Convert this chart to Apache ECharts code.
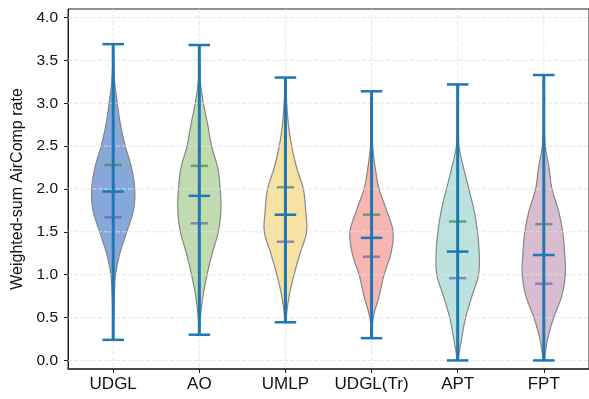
<!DOCTYPE html>
<html>
<head>
<meta charset="utf-8">
<script src="https://cdn.jsdelivr.net/npm/echarts@6/dist/echarts.min.js"></script>
<style>
  html, body { margin: 0; padding: 0; background: #fff; }
  #chart { width: 589px; height: 399px; }
</style>
</head>
<body>
<div id="chart"></div>
<script>
var categories = ['UDGL', 'AO', 'UMLP', 'UDGL(Tr)', 'APT', 'FPT'];
var positions = [1, 2, 3, 4, 5, 6];
var yTicks = [0, 0.5, 1.0, 1.5, 2.0, 2.5, 3.0, 3.5, 4.0];

// extrema, centre line and the two short quantile bars
var minVals = [0.24, 0.30, 0.445, 0.26, 0.0, 0.0];
var maxVals = [3.69, 3.68, 3.30, 3.14, 3.22, 3.33];
var medianVals = [1.97, 1.92, 1.70, 1.43, 1.27, 1.23];
var upperVals = [2.28, 2.27, 2.02, 1.70, 1.62, 1.59];
var lowerVals = [1.67, 1.60, 1.385, 1.21, 0.96, 0.895];

// violin half-widths (relative to widest), read at these levels
var densityLevels = [0, 0.25, 0.5, 0.75, 1.0, 1.25, 1.5, 1.75, 2.0, 2.25, 2.5, 2.75, 3.0, 3.25, 3.5, 3.75];
var densityUDGL   = [0.01, 0.01, 0.02, 0.05, 0.11, 0.31, 0.63, 0.94, 1.0, 0.85, 0.56, 0.34, 0.19, 0.07, 0.02, 0.01];
var densityAO     = [0.01, 0.01, 0.05, 0.17, 0.36, 0.60, 0.88, 1.0, 0.97, 0.85, 0.57, 0.39, 0.19, 0.05, 0.02, 0.01];
var densityUMLP   = [0.01, 0.01, 0.04, 0.17, 0.40, 0.68, 0.98, 0.94, 0.83, 0.52, 0.29, 0.14, 0.06, 0.02, 0.01, 0.01];
var densityUDGLTr = [0.01, 0.01, 0.08, 0.35, 0.58, 0.90, 1.0, 0.70, 0.35, 0.17, 0.05, 0.02, 0.01, 0.01, 0.01, 0.01];
var densityAPT    = [0.03, 0.18, 0.37, 0.66, 0.97, 1.0, 0.92, 0.76, 0.52, 0.27, 0.06, 0.02, 0.01, 0.01, 0.01, 0.01];
var densityFPT    = [0.04, 0.18, 0.46, 0.83, 1.0, 0.97, 0.88, 0.68, 0.38, 0.24, 0.07, 0.02, 0.01, 0.01, 0.01, 0.01];
var densityList = [densityUDGL, densityAO, densityUMLP, densityUDGLTr, densityAPT, densityFPT];

var fillColors = ['#89a8da', '#c1dbb0', '#f7e2a4', '#f8b6b2', '#bde2de', '#d8bcd0'];
var lineBlue = '#1f77b4';
var halfWidth = 0.25;
var capHalf = 0.125;
var quantHalf = 0.1;

var chartDom = document.getElementById('chart');
var myChart = echarts.init(chartDom, null, { renderer: 'canvas' });

// smooth (Catmull-Rom) reading between the sampled levels
function densityAt(dens, v) {
  var n = densityLevels.length;
  if (v <= densityLevels[0]) return dens[0];
  if (v >= densityLevels[n - 1]) return dens[n - 1];
  var k = 1;
  while (k < n - 1 && v > densityLevels[k]) k++;
  var t = (v - densityLevels[k - 1]) / (densityLevels[k] - densityLevels[k - 1]);
  var p0 = dens[Math.max(k - 2, 0)], p1 = dens[k - 1], p2 = dens[k], p3 = dens[Math.min(k + 1, n - 1)];
  var r = 0.5 * (2 * p1 + (-p0 + p2) * t + (2 * p0 - 5 * p1 + 4 * p2 - p3) * t * t +
    (-p0 + 3 * p1 - 3 * p2 + p3) * t * t * t);
  return Math.max(r, 0.005);
}

function renderViolin(params, api) {
  var i = params.dataIndex;
  var pos = positions[i];
  var lo = minVals[i], hi = maxVals[i];
  var dens = densityList[i];
  var steps = 120;
  var levels = [];
  for (var s = 0; s <= steps; s++) levels.push(lo + (hi - lo) * s / steps);
  var left = levels.map(function (v) { return api.coord([pos - halfWidth * densityAt(dens, v), v]); });
  var right = levels.slice().reverse().map(function (v) { return api.coord([pos + halfWidth * densityAt(dens, v), v]); });
  return {
    type: 'polygon',
    shape: { points: left.concat(right) },
    style: { fill: fillColors[i], stroke: '#878787', lineWidth: 1.2 }
  };
}

function hLine(api, pos, half, v, color) {
  var a = api.coord([pos - half, v]);
  var b = api.coord([pos + half, v]);
  return {
    type: 'line',
    shape: { x1: a[0], y1: a[1], x2: b[0], y2: b[1] },
    style: { stroke: color, lineWidth: 2.5 }
  };
}

function renderLines(params, api) {
  var i = params.dataIndex;
  var pos = positions[i];
  var top = api.coord([pos, maxVals[i]]);
  var bot = api.coord([pos, minVals[i]]);
  return {
    type: 'group',
    children: [
      hLine(api, pos, quantHalf, upperVals[i], 'rgba(60,140,70,0.7)'),
      hLine(api, pos, quantHalf, lowerVals[i], 'rgba(95,90,175,0.65)'),
      {
        type: 'line',
        shape: { x1: top[0], y1: top[1], x2: bot[0], y2: bot[1] },
        style: { stroke: lineBlue, lineWidth: 3 }
      },
      hLine(api, pos, capHalf, maxVals[i], lineBlue),
      hLine(api, pos, capHalf, minVals[i], lineBlue),
      hLine(api, pos, capHalf, medianVals[i], lineBlue)
    ]
  };
}

var gridStyle = { stroke: 'rgba(226,226,226,0.85)', lineWidth: 1, lineDash: [4, 2] };

function renderHGrid(params, api) {
  var cs = params.coordSys;
  var y = api.coord([positions[0], api.value(1)])[1];
  return {
    type: 'line',
    shape: { x1: cs.x, y1: y, x2: cs.x + cs.width, y2: y },
    style: gridStyle
  };
}

function renderVGrid(params, api) {
  var cs = params.coordSys;
  var x = api.coord([api.value(0), yTicks[0]])[0];
  return {
    type: 'line',
    shape: { x1: x, y1: cs.y, x2: x, y2: cs.y + cs.height },
    style: gridStyle
  };
}

var option = {
  animation: false,
  backgroundColor: '#fff',
  textStyle: { fontFamily: 'Liberation Sans, Arial, sans-serif' },
  grid: {
    left: 68, top: 9, width: 523, height: 360,
    show: true, borderColor: '#222', borderWidth: 1
  },
  xAxis: {
    type: 'value',
    min: 0.475,
    max: 6.525,
    splitLine: { show: false },
    axisLine: { show: true, onZero: false, lineStyle: { color: '#333', width: 1.5 } },
    axisTick: { show: true, length: 4, customValues: positions, lineStyle: { color: '#222' } },
    axisLabel: {
      customValues: positions,
      margin: 7,
      fontSize: 17,
      color: '#111',
      formatter: function (v) { return categories[Math.round(v) - 1]; }
    }
  },
  yAxis: {
    type: 'value',
    min: -0.1,
    max: 4.1,
    name: 'Weighted-sum AirComp rate',
    nameLocation: 'middle',
    nameGap: 42,
    nameTextStyle: { fontSize: 16, color: '#111' },
    splitLine: { show: false },
    axisLine: { show: true, onZero: false, lineStyle: { color: '#222', width: 1 } },
    axisTick: { show: true, length: 4, customValues: yTicks, lineStyle: { color: '#222' } },
    axisLabel: {
      customValues: yTicks,
      margin: 10,
      fontSize: 15.5,
      color: '#111',
      formatter: function (v) { return v.toFixed(1); }
    }
  },
  series: [
    {
      type: 'custom',
      name: 'violins',
      z: 1,
      renderItem: renderViolin,
      encode: { x: 0, y: 1 },
      data: positions.map(function (p, i) { return [p, medianVals[i]]; })
    },
    {
      type: 'custom',
      name: 'hgrid',
      z: 2,
      silent: true,
      renderItem: renderHGrid,
      encode: { x: 0, y: 1 },
      data: yTicks.map(function (v) { return [positions[0], v]; })
    },
    {
      type: 'custom',
      name: 'vgrid',
      z: 2,
      silent: true,
      renderItem: renderVGrid,
      encode: { x: 0, y: 1 },
      data: positions.map(function (p) { return [p, yTicks[0]]; })
    },
    {
      type: 'custom',
      name: 'lines',
      z: 3,
      renderItem: renderLines,
      encode: { x: 0, y: 1 },
      data: positions.map(function (p, i) { return [p, medianVals[i]]; })
    }
  ]
};

myChart.setOption(option);
window.addEventListener('resize', myChart.resize);
</script>
</body>
</html>
